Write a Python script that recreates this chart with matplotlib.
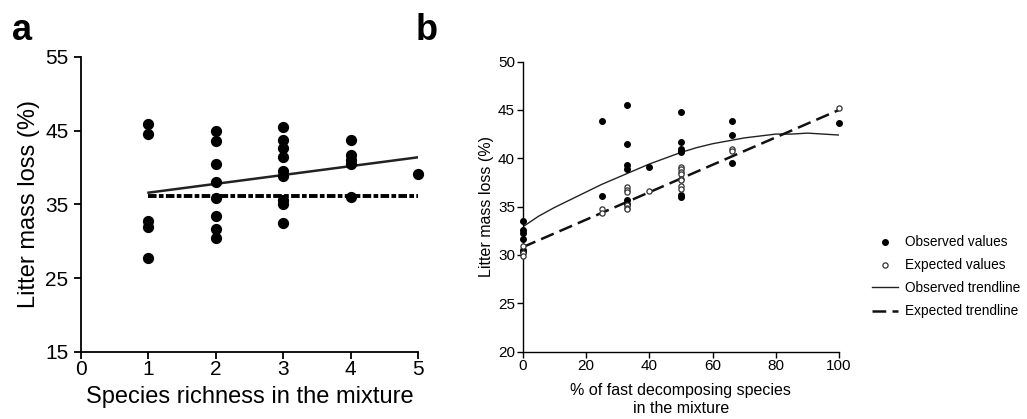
import numpy as np
import matplotlib
matplotlib.use('Agg')
import matplotlib.pyplot as plt

plt.rcParams['font.family'] = ['Liberation Sans', 'DejaVu Sans']

# panel a : species richness
rich_x = [1, 1, 1, 1, 1,
          2, 2, 2, 2, 2, 2, 2, 2,
          3, 3, 3, 3, 3, 3, 3, 3, 3,
          4, 4, 4, 4, 4,
          5]
rich_y = [45.9, 44.5, 32.8, 32.0, 27.7,
          44.9, 43.6, 40.5, 38.1, 35.9, 33.4, 31.7, 30.4,
          45.5, 43.7, 42.6, 41.4, 39.6, 38.9, 35.6, 35.0, 32.5,
          43.8, 41.7, 41.0, 40.5, 36.0,
          39.1]
rich_obs_trend_x = [1, 5]
rich_obs_trend_y = [36.6, 41.4]
rich_exp_trend_x = [1, 5]
rich_exp_trend_y = [36.1, 36.1]

# panel b : % fast decomposing species
obs_x = [0, 0, 0, 0, 0, 0,
         25, 25,
         33, 33, 33, 33, 33, 33,
         40,
         50, 50, 50, 50, 50, 50, 50,
         66, 66, 66,
         100]
obs_y = [33.5, 32.6, 32.3, 31.6, 30.5, 30.3,
         43.9, 36.1,
         45.5, 41.5, 39.3, 38.9, 35.7, 35.3,
         39.1,
         44.8, 41.7, 41.0, 40.8, 40.6, 36.2, 36.0,
         43.9, 42.4, 39.5,
         43.6]
exp_x = [0, 0, 0,
         25, 25,
         33, 33, 33, 33, 33, 33,
         40,
         50, 50, 50, 50, 50, 50, 50, 50,
         66, 66,
         100]
exp_y = [30.9, 30.2, 29.9,
         34.7, 34.3,
         37.0, 36.7, 36.5, 35.2, 34.8, 34.7,
         36.6,
         39.1, 38.9, 38.6, 38.4, 37.9, 37.7, 37.1, 36.8,
         41.0, 40.8,
         45.2]
obs_trend_x = [0, 5, 10, 15, 20, 25, 30, 35, 40, 45, 50, 55, 60, 65, 70, 75, 80, 85, 90, 95, 100]
obs_trend_y = [32.9, 34.0, 34.9, 35.7, 36.5, 37.3, 38.0, 38.7, 39.4, 40.0, 40.6, 41.1, 41.5, 41.8, 42.1, 42.3, 42.5, 42.5, 42.6, 42.5, 42.4]
exp_trend_x = [0, 100]
exp_trend_y = [30.8, 45.0]

fig = plt.figure(figsize=(10.27, 4.19), dpi=100)

# ---- panel a
ax1 = fig.add_axes([0.0789, 0.160, 0.3283, 0.704])
ax1.scatter(rich_x, rich_y, s=50, color='black', zorder=3, clip_on=False)
ax1.plot(rich_obs_trend_x, rich_obs_trend_y, color='#222222', lw=1.8, zorder=2)
ax1.plot(rich_exp_trend_x, rich_exp_trend_y, color='black', lw=2.8,
         dashes=(2.2, 0.6, 1.2, 0.6), zorder=2)
ax1.set_xlim(0, 5)
ax1.set_ylim(15, 55)
ax1.set_xticks([0, 1, 2, 3, 4, 5])
ax1.set_yticks([15, 25, 35, 45, 55])
ax1.spines['top'].set_visible(False)
ax1.spines['right'].set_visible(False)
for sp in ['left', 'bottom']:
    ax1.spines[sp].set_linewidth(1.3)
ax1.tick_params(labelsize=15, width=1.3, length=5, pad=1)
ax1.tick_params(axis='y', pad=4)
ax1.set_xlabel('Species richness in the mixture', fontsize=17, labelpad=5)
ax1.set_ylabel('Litter mass loss (%)', fontsize=17, labelpad=4)

# ---- panel b
ax2 = fig.add_axes([0.509, 0.161, 0.308, 0.692])
ax2.scatter(obs_x, obs_y, s=16, color='black', zorder=3, clip_on=False,
            label='Observed values')
ax2.scatter(exp_x, exp_y, s=14, facecolor='white', edgecolor='#333333',
            linewidth=0.9, zorder=4, clip_on=False, label='Expected values')
ax2.plot(obs_trend_x, obs_trend_y, color='#222222', lw=1.0, zorder=2,
         label='Observed trendline')
ax2.plot(exp_trend_x, exp_trend_y, color='#111111', lw=1.8,
         dashes=(5.5, 2.5), zorder=2, label='Expected trendline')
ax2.set_xlim(0, 100)
ax2.set_ylim(20, 50)
ax2.set_xticks(np.arange(0, 101, 20))
ax2.set_yticks(np.arange(20, 51, 5))
ax2.spines['top'].set_visible(False)
ax2.spines['right'].set_visible(False)
for sp in ['left', 'bottom']:
    ax2.spines[sp].set_linewidth(1.0)
ax2.tick_params(labelsize=11, width=1.0, length=4, pad=1.5)
ax2.set_xlabel('% of fast decomposing species\nin the mixture', fontsize=11.5,
               labelpad=7, linespacing=1.25)
ax2.set_ylabel('Litter mass loss (%)', fontsize=11.5, labelpad=3)

handles, labels = ax2.get_legend_handles_labels()
leg = fig.legend(handles, labels, loc='center left', bbox_to_anchor=(0.837, 0.340),
                 frameon=False, fontsize=9.8, handlelength=1.95, handletextpad=0.5,
                 labelspacing=0.68)

fig.text(0.012, 0.905, 'a', fontsize=26, fontweight='bold')
fig.text(0.405, 0.905, 'b', fontsize=26, fontweight='bold')

fig.savefig('out.png', dpi=100)
